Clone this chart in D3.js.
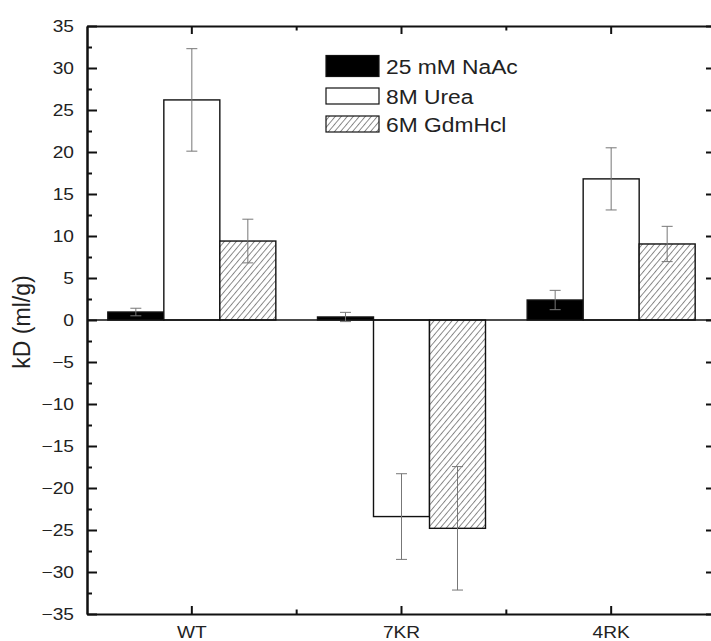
<!DOCTYPE html>
<html>
<head>
<meta charset="utf-8">
<script src="https://cdn.jsdelivr.net/npm/d3@7"></script>
<style>
  body { margin: 0; background: #fff; }
  text { font-family: "Liberation Sans", Arial, sans-serif; fill: #222; }
</style>
</head>
<body>
<div id="chart"></div>
<script>
const categories = ["WT", "7KR", "4RK"];
const series = ["25 mM NaAc", "8M Urea", "6M GdmHcl"];
const naacValues = [0.95, 0.36, 2.38];
const naacErrors = [0.45, 0.55, 1.15];
const ureaValues = [26.2, -23.4, 16.8];
const ureaErrors = [6.1, 5.1, 3.7];
const gdmValues = [9.4, -24.8, 9.05];
const gdmErrors = [2.6, 7.35, 2.1];
const yTicks = [-35, -30, -25, -20, -15, -10, -5, 0, 5, 10, 15, 20, 25, 30, 35];
const yMinorTicks = [-32.5, -27.5, -22.5, -17.5, -12.5, -7.5, -2.5, 2.5, 7.5, 12.5, 17.5, 22.5, 27.5, 32.5];

const width = 711, height = 641;
const plot = { left: 87, right: 716, top: 26, bottom: 614 };
const stretch = 1.16;

const svg = d3.select("#chart").append("svg")
  .attr("width", width).attr("height", height);

const defs = svg.append("defs");
const hatch = defs.append("pattern")
  .attr("id", "hatch")
  .attr("patternUnits", "userSpaceOnUse")
  .attr("width", 4.6).attr("height", 10)
  .attr("patternTransform", "rotate(40)");
hatch.append("rect").attr("width", 4.6).attr("height", 10).attr("fill", "#fff");
hatch.append("line").attr("x1", 0.5).attr("x2", 0.5).attr("y1", 0).attr("y2", 10)
  .attr("stroke", "#777").attr("stroke-width", 0.9);

const fills = ["#000", "#fff", "url(#hatch)"];
const valueSets = [naacValues, ureaValues, gdmValues];
const errorSets = [naacErrors, ureaErrors, gdmErrors];

const rows = [];
series.forEach((s, i) => {
  categories.forEach((c, j) => {
    rows.push({ series: s, cat: c, value: valueSets[i][j], err: errorSets[i][j], fill: fills[i] });
  });
});

const x = d3.scaleBand().domain(categories).range([plot.left, plot.right]).padding(0);
const xi = d3.scaleBand().domain(series).range([0, x.bandwidth()])
  .paddingInner(0).paddingOuter(0.372);
const y = d3.scaleLinear().domain([-35, 35]).range([plot.bottom, plot.top]);

function widen(sel, k) {
  sel.each(function () {
    const w = this.getComputedTextLength();
    d3.select(this).attr("textLength", w * k).attr("lengthAdjust", "spacingAndGlyphs");
  });
}

// bars
svg.append("g").attr("id", "bars")
  .selectAll("rect")
  .data(rows)
  .join("rect")
  .attr("x", (d) => x(d.cat) + xi(d.series))
  .attr("width", xi.bandwidth())
  .attr("y", (d) => Math.min(y(d.value), y(0)))
  .attr("height", (d) => Math.abs(y(d.value) - y(0)))
  .attr("fill", (d) => d.fill)
  .attr("stroke", "#111")
  .attr("stroke-width", 1.4);

// zero line
svg.append("line")
  .attr("x1", plot.left).attr("x2", plot.right)
  .attr("y1", y(0)).attr("y2", y(0))
  .attr("stroke", "#111").attr("stroke-width", 1.6);

// error bars
const errG = svg.append("g").attr("id", "errors")
  .selectAll("g").data(rows).join("g")
  .attr("transform", (d) => `translate(${x(d.cat) + xi(d.series) + xi.bandwidth() / 2},0)`)
  .attr("stroke", "#777").attr("stroke-width", 1);
errG.append("line")
  .attr("y1", (d) => y(d.value - d.err)).attr("y2", (d) => y(d.value + d.err));
errG.append("line").attr("x1", -5.5).attr("x2", 5.5)
  .attr("y1", (d) => y(d.value + d.err)).attr("y2", (d) => y(d.value + d.err));
errG.append("line").attr("x1", -5.5).attr("x2", 5.5)
  .attr("y1", (d) => y(d.value - d.err)).attr("y2", (d) => y(d.value - d.err));

// axes
function styleAxis(g) {
  g.select(".domain").attr("stroke", "#111").attr("stroke-width", 2);
  g.selectAll(".tick line").attr("stroke", "#111").attr("stroke-width", 2);
  g.selectAll("text").attr("font-family", null).style("font-size", "16.5px").attr("fill", "#222");
}

const leftAxis = svg.append("g").attr("transform", `translate(${plot.left},0)`)
  .call(d3.axisLeft(y).tickValues(yTicks).tickSize(-10).tickSizeOuter(0).tickPadding(13))
  .call(styleAxis);
widen(leftAxis.selectAll("text"), stretch);
svg.append("g").attr("transform", `translate(${plot.left},0)`)
  .call(d3.axisLeft(y).tickValues(yMinorTicks).tickSize(-5).tickSizeOuter(0).tickFormat(""))
  .call(styleAxis);

svg.append("g").attr("transform", `translate(${plot.right},0)`)
  .call(d3.axisRight(y).tickValues(yTicks).tickSize(-10).tickSizeOuter(0).tickFormat(""))
  .call(styleAxis);
svg.append("g").attr("transform", `translate(${plot.right},0)`)
  .call(d3.axisRight(y).tickValues(yMinorTicks).tickSize(-5).tickSizeOuter(0).tickFormat(""))
  .call(styleAxis);

const bottomAxis = svg.append("g").attr("transform", `translate(0,${plot.bottom})`)
  .call(d3.axisBottom(x).tickSize(-8).tickSizeOuter(0).tickPadding(12))
  .call(styleAxis);
widen(bottomAxis.selectAll("text"), stretch);
svg.append("g").attr("transform", `translate(0,${plot.top})`)
  .call(d3.axisTop(x).tickSize(-8).tickSizeOuter(0).tickFormat(""))
  .call(styleAxis);

// minor x ticks at band boundaries
const bounds = categories.slice(1);
[[plot.bottom, -4.5], [plot.top, 4.5]].forEach(([yy, dy]) => {
  svg.append("g").selectAll("line").data(bounds).join("line")
    .attr("x1", (d) => x(d)).attr("x2", (d) => x(d))
    .attr("y1", yy).attr("y2", yy + dy)
    .attr("stroke", "#111").attr("stroke-width", 2);
});

// y label
svg.append("text")
  .attr("transform", "translate(30,322) rotate(-90)")
  .attr("text-anchor", "middle")
  .style("font-size", "23px")
  .text("kD (ml/g)");

// legend
const legendRows = [
  { label: series[0], fill: fills[0], cy: 66, h: 21 },
  { label: series[1], fill: fills[1], cy: 96, h: 16 },
  { label: series[2], fill: fills[2], cy: 124, h: 16 }
];
const legend = svg.append("g").attr("id", "legend");
legend.selectAll("rect").data(legendRows).join("rect")
  .attr("x", 326).attr("width", 53)
  .attr("y", (d) => d.cy - d.h / 2).attr("height", (d) => d.h)
  .attr("fill", (d) => d.fill).attr("stroke", "#111").attr("stroke-width", 1.2);
const legendText = legend.selectAll("text").data(legendRows).join("text")
  .attr("x", 386).attr("y", (d) => d.cy + 7.5)
  .style("font-size", "20px")
  .text((d) => d.label);
widen(legendText, 1.14);
</script>
</body>
</html>
